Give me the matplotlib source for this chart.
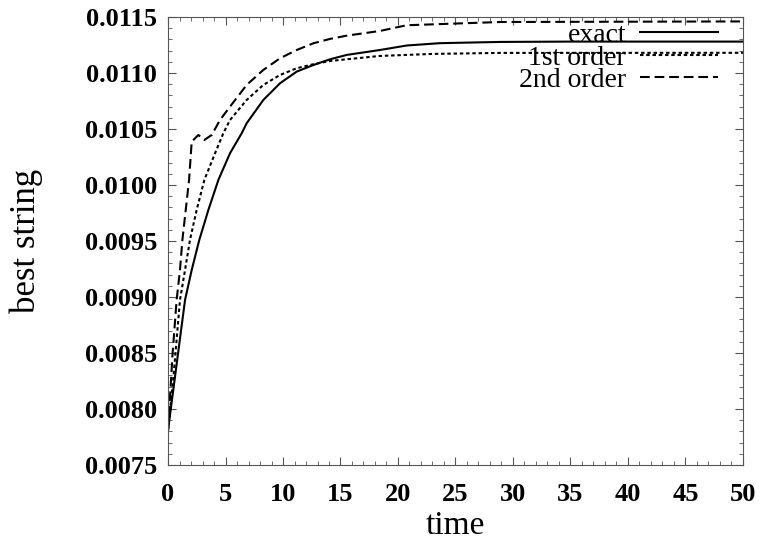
import matplotlib
matplotlib.use('Agg')
import matplotlib.pyplot as plt
from matplotlib.ticker import MultipleLocator

# values
t_exact = [0, 0.75, 1.48, 2.06, 2.72, 3.51, 4.38, 5.39, 6.41, 6.84, 8.29, 9.74, 11.19,
           12.64, 14.09, 15.54, 18.43, 20.75, 23.65, 28.9, 35, 50]
exact = [0.00781, 0.00840, 0.008973, 0.009241, 0.009509, 0.009777, 0.010045, 0.010283,
         0.010462, 0.010551, 0.010759, 0.010908, 0.011012, 0.011071, 0.011122, 0.011161,
         0.011205, 0.011245, 0.011266, 0.011277, 0.01128, 0.01128]

t_first = [0, 0.5, 1.04, 1.48, 1.91, 2.49, 3.16, 4.09, 4.81, 5.39, 6.84, 8.29, 9.74,
           11.19, 12.64, 14.09, 15.54, 18.43, 23.0, 28.9, 50]
first_order = [0.00781, 0.00832, 0.008973, 0.009241, 0.009509, 0.009777, 0.010045,
               0.010283, 0.010462, 0.01058, 0.010759, 0.010893, 0.010982, 0.011042,
               0.011078, 0.011107, 0.011122, 0.011152, 0.01117, 0.011179, 0.01118]

t_second = [0, 0.4, 0.75, 1.04, 1.25, 1.54, 1.83, 2.06, 2.64, 3.16, 3.8, 4.52, 5.39,
            6.84, 8.29, 9.74, 11.19, 12.64, 14.09, 15.54, 18.43, 20.75, 28.9, 50]
second_order = [0.00781, 0.00850, 0.008973, 0.009241, 0.009509, 0.009777, 0.010045,
                0.010387, 0.010446, 0.010402, 0.010446, 0.01058, 0.010699, 0.010893,
                0.011027, 0.011131, 0.011205, 0.011265, 0.011304, 0.011333, 0.011375,
                0.011426, 0.011455, 0.01146]

plt.rcParams['font.family'] = ['Liberation Serif', 'DejaVu Serif']
plt.rcParams['lines.scale_dashes'] = False

fig = plt.figure(figsize=(7.62, 5.47), dpi=100)
ax = fig.add_axes([0.2205, 0.150, 0.7545, 0.819])

ax.plot(t_exact, exact, color='black', lw=1.5, label='exact')
ax.plot(t_first, first_order, color='black', lw=1.5, dashes=(2.5, 2), label='1st order')
ax.plot(t_second, second_order, color='black', lw=1.5, dashes=(7, 3.5), label='2nd order')

ax.set_xlim(0, 50)
ax.set_ylim(0.0075, 0.0115)
ax.xaxis.set_major_locator(MultipleLocator(5))
ax.xaxis.set_minor_locator(MultipleLocator(1))
ax.yaxis.set_major_locator(MultipleLocator(0.0005))
ax.yaxis.set_minor_locator(MultipleLocator(0.0001))
ax.yaxis.set_major_formatter(plt.FuncFormatter(lambda v, p: '%.4f' % v))

ax.tick_params(which='both', direction='in', top=True, right=True, color='#555555')
ax.tick_params(which='major', length=6, labelsize=19)
ax.tick_params(axis='y', which='major', pad=8)
ax.tick_params(axis='x', which='major', pad=13)
ax.tick_params(which='minor', length=3)
for lab in ax.get_xticklabels() + ax.get_yticklabels():
    lab.set_fontweight('bold')
for s in ax.spines.values():
    s.set_color('#555555')

ax.set_xlabel('time', fontsize=24, labelpad=3)
ax.set_ylabel('best string', fontsize=25, labelpad=30)

ax.legend(loc='upper right', frameon=False, markerfirst=False, fontsize=20,
          handlelength=2.8, handletextpad=0.5, labelspacing=-0.1,
          borderaxespad=0.2, bbox_to_anchor=(0.985, 1.025))

fig.savefig('out.png', dpi=100)
